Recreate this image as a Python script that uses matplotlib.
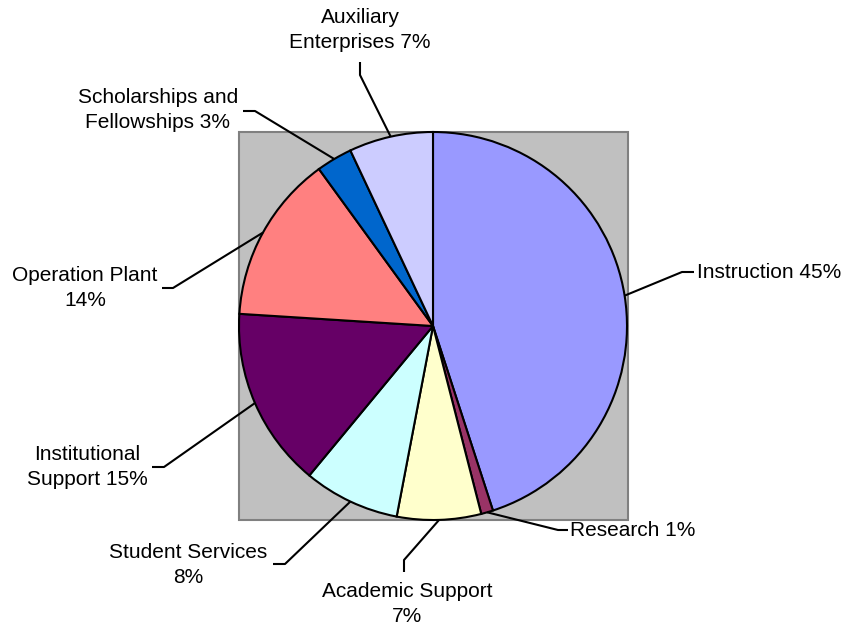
import numpy as np
import matplotlib.pyplot as plt
from matplotlib.patches import Rectangle

plt.rcParams['font.family'] = ['Liberation Sans', 'DejaVu Sans']

# data
categories = ["Instruction", "Research", "Academic Support", "Student Services",
              "Institutional Support", "Operation Plant",
              "Scholarships and Fellowships", "Auxiliary Enterprises"]
shares = [45, 1, 7, 8, 15, 14, 3, 7]
label_texts = ["Instruction 45%", "Research 1%", "Academic Support\n7%",
               "Student Services\n8%", "Institutional\nSupport 15%",
               "Operation Plant\n14%", "Scholarships and\nFellowships 3%",
               "Auxiliary\nEnterprises 7%"]
colors = ["#9999FF", "#993366", "#FFFFCC", "#CCFFFF",
          "#660066", "#FF8080", "#0066CC", "#CCCCFF"]

W, H = 849, 628
CX, CY, R = 433, 326, 194  # pixel coords, y measured from top


def fy(y):
    # top-down pixel row -> axis y
    return H - y


# label layout: text position, alignment, leader elbow, leader end, anchor angle override
layout = [
    dict(xy=(697, 272), ha='left', elbow=(682, 272), end=(694, 272), angle=9),
    dict(xy=(570, 530), ha='left', elbow=(558, 530), end=(568, 530), angle=None),
    dict(xy=(407, 604), ha='center', elbow=(404, 560), end=(404, 572), angle=None),
    dict(xy=(188, 565), ha='center', elbow=(285, 564), end=(273, 564), angle=None),
    dict(xy=(87, 467), ha='center', elbow=(164, 467), end=(152, 467), angle=None),
    dict(xy=(85, 288), ha='center', elbow=(173, 288), end=(162, 288), angle=None),
    dict(xy=(158, 110), ha='center', elbow=(255, 111), end=(243, 111), angle=None),
    dict(xy=(360, 30), ha='center', elbow=(360, 75), end=(360, 62), angle=None),
]

fig = plt.figure(figsize=(W / 100, H / 100), dpi=100)
ax = fig.add_axes([0, 0, 1, 1])

# gray plot area
ax.add_patch(Rectangle((239, fy(520)), 389, 388, facecolor="#C0C0C0",
                       edgecolor="#808080", linewidth=1.5, zorder=0))

wedges, _ = ax.pie(shares, colors=colors, startangle=90, counterclock=False,
                   center=(CX, fy(CY)), radius=R,
                   wedgeprops=dict(edgecolor='black', linewidth=1.5))
for w in wedges:
    w.set_zorder(2)

for w, txt, lay in zip(wedges, label_texts, layout):
    ang = lay['angle'] if lay['angle'] is not None else (w.theta1 + w.theta2) / 2
    ax_ = CX + R * np.cos(np.radians(ang))
    ay_ = fy(CY) + R * np.sin(np.radians(ang))
    ex, ey = lay['elbow']
    nx, ny = lay['end']
    ax.plot([ax_, ex, nx], [ay_, fy(ey), fy(ny)], color='black', lw=1.5,
            zorder=3, solid_capstyle='butt')
    ax.text(lay['xy'][0], fy(lay['xy'][1]), txt, ha=lay['ha'], va='center',
            fontsize=15, linespacing=1.45, multialignment='center', zorder=4)

ax.set_xlim(0, W)
ax.set_ylim(0, H)
ax.set_aspect('auto')
ax.axis('off')

fig.savefig("out.png", dpi=100)
